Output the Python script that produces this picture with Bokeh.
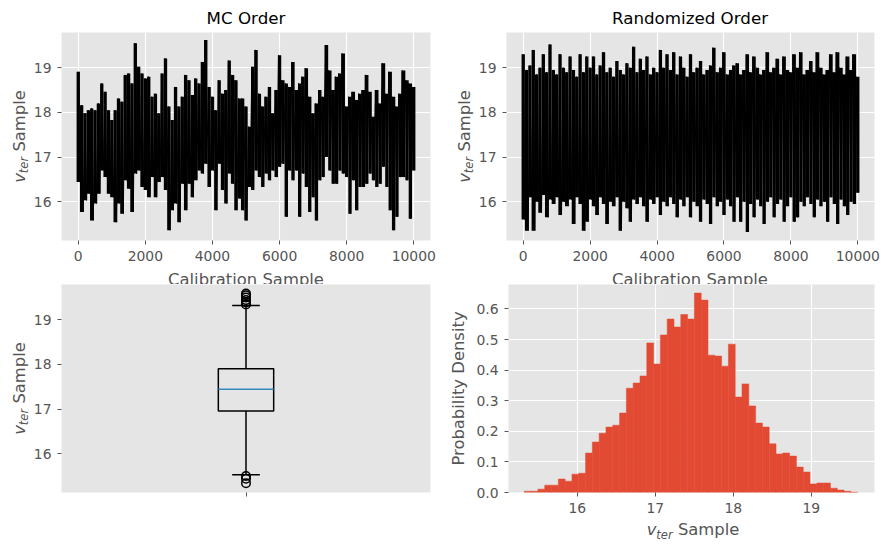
import numpy as np
from bokeh.plotting import figure
from bokeh.layouts import column, row
from bokeh.models import Label, FixedTicker, Range1d, PrintfTickFormatter
from bokeh.embed import file_html
from bokeh.resources import INLINE

# ---- chain summary: per-window high / low of the v_ter trace (10000 draws, ~100 windows)
n_samples = 10000
mc_hi = [18.91, 18.16, 17.98, 18.05, 18.09, 18.05, 18.20, 18.65, 18.46, 18.05,
         17.83, 18.05, 18.31, 18.24, 18.84, 18.87, 18.65, 19.55, 19.02, 18.87,
         18.76, 18.80, 18.35, 18.42, 17.98, 18.87, 19.21, 18.13, 17.83, 18.57,
         18.13, 18.35, 18.84, 18.72, 18.39, 18.76, 18.65, 19.13, 19.62, 18.57,
         18.35, 18.05, 18.72, 18.42, 18.50, 19.16, 18.84, 18.72, 18.31, 18.31,
         18.13, 17.68,
         19.02, 19.40, 18.42, 18.13, 18.35, 18.57, 17.98, 18.50, 19.28, 18.72,
         18.65, 18.57, 19.13, 18.50, 18.65, 18.80, 18.99, 18.35, 17.98, 18.20,
         18.50, 18.35, 19.51, 18.94, 18.50, 18.80, 18.87, 19.32, 18.13, 18.35,
         18.46, 18.28, 18.42, 18.50, 18.84, 18.46, 17.90, 18.50, 18.20, 19.10,
         18.42, 18.91, 18.35, 18.13, 18.42, 18.94, 18.72, 18.65, 18.57]
mc_lo = [16.44, 15.77, 16.03, 16.18, 15.58, 15.96, 16.18, 16.70, 16.55, 16.18,
         16.10, 15.54, 15.96, 15.73, 16.48, 16.29, 15.77, 16.63, 16.70, 16.33,
         16.26, 16.10, 16.55, 16.10, 16.44, 16.55, 16.26, 15.36, 15.81, 15.96,
         15.54, 16.40, 15.81, 16.40, 16.10, 16.48, 16.70, 16.63, 16.85, 16.33,
         16.70, 15.81, 16.85, 16.26, 15.96, 16.63, 16.40, 15.81, 16.07, 15.81,
         15.58, 16.33,
         16.26, 16.70, 16.55, 16.33, 16.63, 16.48, 16.70, 16.55, 16.78, 16.85,
         15.66, 16.70, 16.48, 16.70, 15.66, 16.63, 16.33, 15.77, 16.10, 15.58,
         16.48, 16.55, 17.00, 16.70, 16.40, 16.40, 16.70, 16.63, 16.55, 15.73,
         16.48, 15.81, 16.33, 16.33, 16.40, 16.63, 16.48, 16.33, 16.40, 16.78,
         16.33, 15.81, 15.36, 15.66, 16.55, 16.55, 16.48, 15.62, 16.70]

# same draws, shuffled order
rnd_hi = [19.30, 18.95, 19.05, 19.40, 18.85, 19.00, 19.30, 18.90, 19.52, 18.95,
          18.85, 19.30, 19.00, 18.90, 19.25, 18.95, 18.80, 19.30, 18.90, 19.25,
          19.00, 19.25, 18.85, 19.05, 19.35, 18.90, 19.00, 18.80, 19.15, 18.95,
          18.85, 19.10, 19.00, 19.47, 18.90, 19.20, 18.95, 19.25, 18.85, 19.00,
          18.90, 19.40, 19.00, 19.30, 18.95, 19.35, 18.85, 19.25, 19.00, 18.80,
          19.30, 18.90, 19.00, 19.15, 18.85, 18.95, 19.05, 19.45, 18.90, 19.00,
          19.35, 18.85, 18.95, 19.05, 19.10, 18.85, 18.95, 19.30, 18.90, 19.25,
          19.00, 18.85, 18.95, 19.35, 18.90, 19.00, 19.20, 18.85, 19.25, 18.95,
          18.90, 19.30, 19.00, 19.35, 18.85, 18.95, 19.15, 18.90, 19.35, 19.00,
          18.85, 18.95, 19.30, 18.90, 19.35, 19.00, 18.85, 19.25, 18.95, 19.30,
          18.80]
rnd_lo = [15.60, 15.35, 16.10, 15.35, 16.00, 15.75, 16.15, 15.65, 16.05, 15.95,
          16.10, 15.70, 16.00, 15.90, 16.05, 15.50, 16.10, 15.95, 15.35, 15.55,
          16.05, 15.90, 15.70, 16.10, 15.95, 15.50, 16.00, 15.90, 16.10, 15.35,
          16.00, 15.85, 15.55, 16.05, 15.95, 16.10, 15.90, 15.55, 16.05, 15.95,
          16.10, 15.70, 16.00, 15.90, 16.10, 15.95, 15.65, 16.05, 15.90, 16.10,
          15.65, 16.00, 15.90, 15.55, 16.05, 15.95, 15.50, 16.10, 15.90, 16.00,
          15.70, 16.05, 15.90, 15.55, 16.10, 15.55, 16.00, 15.32, 15.95, 15.65,
          16.05, 15.90, 15.50, 16.00, 16.10, 15.65, 15.95, 16.05, 15.55, 15.90,
          16.10, 15.55, 15.65, 16.00, 15.90, 16.10, 15.95, 15.65, 16.05, 15.90,
          16.00, 15.55, 16.10, 15.95, 15.50, 16.05, 15.90, 15.70, 16.00, 15.95,
          16.20]

# box plot statistics
box_q1, box_med, box_q3 = 16.956, 17.444, 17.900
whisker_lo, whisker_hi = 15.53, 19.32
fliers = [19.34, 19.39, 19.44, 19.50, 19.55, 19.59, 15.50, 15.44, 15.34]

# histogram (density) of the draws
hist_range = (15.322, 19.594)
hist_density = [0.004, 0.004, 0.011, 0.024, 0.024, 0.044, 0.037, 0.060, 0.063, 0.129,
                0.165, 0.194, 0.214, 0.220, 0.260, 0.341, 0.358, 0.381, 0.489, 0.420,
                0.515, 0.567, 0.541, 0.582, 0.567, 0.652, 0.629, 0.449, 0.446, 0.413,
                0.485, 0.312, 0.355, 0.283, 0.227, 0.214, 0.159, 0.126, 0.129, 0.119,
                0.083, 0.067, 0.028, 0.031, 0.031, 0.014, 0.008, 0.004, 0.001]

trace_xticks = [0, 2000, 4000, 6000, 8000, 10000]
v_ticks = [16, 17, 18, 19]
density_ticks = [0.0, 0.1, 0.2, 0.3, 0.4, 0.5, 0.6]

FONT = "DejaVu Sans"
TXT = "#555555"
BG = "#E5E5E5"
TICK_PX = "13.9px"
LAB = 16.4      # axis-label font size, px
SUB = 11.5      # subscript font size, px
TITLE = 16.7
MID = 0.30      # baseline -> middle-of-em offset, in em
V_RANGE = (15.13, 19.79)


def make_fig(width, height, left, right, top, bottom, x_range, y_range):
    p = figure(width=width, height=height, x_range=Range1d(*x_range),
               y_range=Range1d(*y_range), output_backend="svg",
               toolbar_location=None, min_border_left=left,
               min_border_right=right, min_border_top=top,
               min_border_bottom=bottom)
    p.background_fill_color = BG
    p.border_fill_color = "white"
    p.outline_line_color = None
    for ax in p.axis:
        ax.axis_line_color = None
        ax.major_tick_line_color = TXT
        ax.major_tick_out = 4
        ax.major_tick_in = 0
        ax.minor_tick_line_color = None
        ax.major_label_text_color = TXT
        ax.major_label_text_font = FONT
        ax.major_label_text_font_size = TICK_PX
    p.xaxis.major_label_standoff = 6
    p.yaxis.major_label_standoff = 6
    p.grid.grid_line_color = "white"
    p.grid.grid_line_width = 1.1
    return p


def strip(width, height):
    # plain white canvas that only carries text
    s = figure(width=width, height=height, x_range=Range1d(0, width),
               y_range=Range1d(0, height), x_axis_type=None, y_axis_type=None,
               output_backend="svg", toolbar_location=None, min_border=0)
    s.outline_line_color = None
    s.background_fill_color = "white"
    s.border_fill_color = "white"
    return s


def piece(p, x, y, s, size, style="normal", angle=0.0, color=TXT):
    # text centred on (x, y), in pixels from the frame's bottom-left corner
    p.add_layout(Label(x=x, y=y, x_units="screen", y_units="screen", text=s,
                       text_font=FONT, text_font_size=f"{size}px",
                       text_font_style=style, text_color=color,
                       text_align="center", text_baseline="middle",
                       angle=angle))


def hline_text(p, cx, base, s, size=LAB, color=TXT):
    piece(p, cx, base + MID * size, s, size, color=color)


V_W, TER_W, SP_W, SAMPLE_W = 0.592 * LAB, 1.418 * SUB, 0.318 * LAB, 3.75 * LAB
LABEL_W = V_W + TER_W + SP_W + SAMPLE_W
SUB_DROP = 3.5


def v_label_vertical(p, base_x, center):
    # rotated "v_ter Sample", reading upwards, centred at `center`
    a = np.pi / 2
    s0 = center - LABEL_W / 2
    piece(p, base_x - MID * LAB, s0 + V_W / 2, "v", LAB, "italic", a)
    piece(p, base_x + SUB_DROP - MID * SUB, s0 + V_W + TER_W / 2, "ter", SUB, "italic", a)
    piece(p, base_x - MID * LAB, s0 + V_W + TER_W + SP_W + SAMPLE_W / 2, "Sample", LAB, angle=a)


def v_label_horizontal(p, center, base_y):
    s0 = center - LABEL_W / 2
    piece(p, s0 + V_W / 2, base_y + MID * LAB, "v", LAB, "italic")
    piece(p, s0 + V_W + TER_W / 2, base_y - SUB_DROP + MID * SUB, "ter", SUB, "italic")
    piece(p, s0 + V_W + TER_W + SP_W + SAMPLE_W / 2, base_y + MID * LAB, "Sample", LAB)


def draw_trace(p, hi, lo):
    # each window drawn as its full high-low stroke, joined by the zigzag path
    n = len(hi)
    xc = np.linspace(0, n_samples - 1, n)
    step = xc[1] - xc[0]
    p.vbar(x=xc, width=step, top=hi, bottom=lo, fill_color="black",
           line_color=None)
    xs = np.linspace(0, n_samples - 1, 2 * n)
    ys = np.empty(2 * n)
    ys[0::2] = hi
    ys[1::2] = lo
    p.line(xs, ys, line_color="black", line_width=1.0)


trace_xr = (-500, 10499)
TOP_BOTTOM_BORDER = 30   # frame offset of the side strips in the top row
BOX_BOTTOM_BORDER = 57
HIST_LEFT_BORDER = 32

# ---- MC order trace
p1 = make_fig(415, 238, 31, 15, 0, TOP_BOTTOM_BORDER, trace_xr, V_RANGE)
draw_trace(p1, mc_hi, mc_lo)
p1.xaxis.ticker = FixedTicker(ticks=trace_xticks)
p1.yaxis.ticker = FixedTicker(ticks=v_ticks)
title1 = strip(445, 32)
hline_text(title1, 245.5, 9, "MC Order", TITLE, color="black")
ylab1 = strip(30, 238)
v_label_vertical(ylab1, 23.5, 134 - TOP_BOTTOM_BORDER)
xlab1 = strip(445, 14)
hline_text(xlab1, 245.5, -0.3, "Calibration Sample")
top_left = column(title1, row(ylab1, p1), xlab1)

# ---- randomized order trace
p2 = make_fig(414, 238, 30, 15, 0, TOP_BOTTOM_BORDER, trace_xr, V_RANGE)
draw_trace(p2, rnd_hi, rnd_lo)
p2.xaxis.ticker = FixedTicker(ticks=trace_xticks)
p2.yaxis.ticker = FixedTicker(ticks=v_ticks)
title2 = strip(444, 32)
hline_text(title2, 244.5, 9, "Randomized Order", TITLE, color="black")
ylab2 = strip(30, 238)
v_label_vertical(ylab2, 23.5, 134 - TOP_BOTTOM_BORDER)
xlab2 = strip(444, 14)
hline_text(xlab2, 244.5, -0.3, "Calibration Sample")
top_right = column(title2, row(ylab2, p2), xlab2)

# ---- box plot
p3 = make_fig(415, 265, 31, 15, 0, BOX_BOTTOM_BORDER, (0.5, 1.5), V_RANGE)
p3.grid.visible = False
p3.xaxis.ticker = FixedTicker(ticks=[1])
p3.xaxis.major_label_overrides = {1: ""}
p3.yaxis.ticker = FixedTicker(ticks=v_ticks)
bw, cw = 0.075, 0.0375
p3.quad(left=[1 - bw], right=[1 + bw], bottom=[box_q1], top=[box_q3],
        fill_color=None, line_color="black", line_width=1.5)
p3.segment(x0=[1, 1], y0=[box_q1, box_q3], x1=[1, 1], y1=[whisker_lo, whisker_hi],
           line_color="black", line_width=1.5)
p3.segment(x0=[1 - cw, 1 - cw], y0=[whisker_lo, whisker_hi],
           x1=[1 + cw, 1 + cw], y1=[whisker_lo, whisker_hi],
           line_color="black", line_width=1.5)
p3.segment(x0=[1 - bw], y0=[box_med], x1=[1 + bw], y1=[box_med],
           line_color="#348ABD", line_width=1.4)
p3.scatter(x=[1] * len(fliers), y=fliers, marker="circle", size=8.5,
           fill_color=None, line_color="black", line_width=1.5)
ylab3 = strip(30, 265)
v_label_vertical(ylab3, 23.5, 161 - BOX_BOTTOM_BORDER)
bottom_left = row(ylab3, p3)

# ---- histogram
p4 = make_fig(416, 236, HIST_LEFT_BORDER, 15, 0, 28, (15.119, 19.81), (0, 0.68))
edges = np.linspace(hist_range[0], hist_range[1], len(hist_density) + 1)
p4.quad(left=edges[:-1], right=edges[1:], bottom=0, top=hist_density,
        fill_color="#E24A33", line_color="#E24A33", line_width=0.5)
p4.xaxis.ticker = FixedTicker(ticks=v_ticks)
p4.yaxis.ticker = FixedTicker(ticks=density_ticks)
p4.yaxis.formatter = PrintfTickFormatter(format="%.1f")
ylab4 = strip(28, 265)
piece(ylab4, 18 - MID * LAB, 161, "Probability Density", LAB, angle=np.pi / 2)
xlab4 = strip(416, 29)
v_label_horizontal(xlab4, 689.5 - 473 - HIST_LEFT_BORDER, 15)
bottom_right = row(ylab4, column(p4, xlab4))

layout = column(row(top_left, top_right), row(bottom_left, bottom_right))
open("out.html", "w").write(file_html(layout, INLINE))
